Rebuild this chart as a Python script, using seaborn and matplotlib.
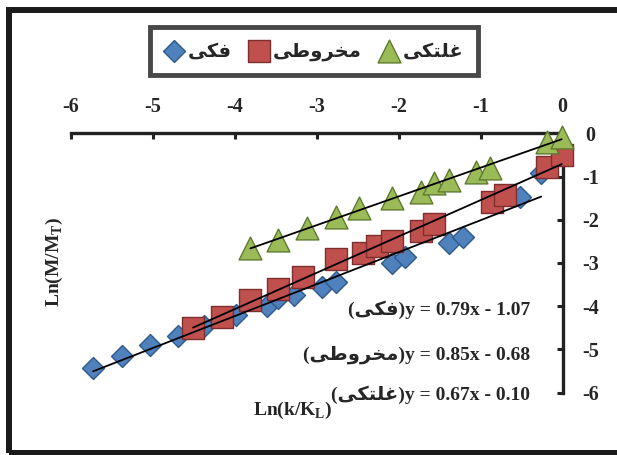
import numpy as np
import pandas as pd
import matplotlib
matplotlib.use("Agg")
import matplotlib.pyplot as plt
from matplotlib.patches import Rectangle
import seaborn as sns

sns.set_style("white")
plt.rcParams['font.family'] = ['Liberation Serif', 'DejaVu Sans']
plt.rcParams['font.weight'] = 'bold'
plt.rcParams['mathtext.fontset'] = 'custom'
plt.rcParams['mathtext.rm'] = 'Liberation Serif:bold'
plt.rcParams['mathtext.bf'] = 'Liberation Serif:bold'

# series names (Persian, shaped presentation forms in visual order)
name_jaw = "\uFBFD\uFB91\uFED3"                       # فکی
name_cone = "\uFBFD\uFEC3\uFEED\uFEAE\uFEA8\uFEE3"    # مخروطی
name_roll = "\uFBFD\uFB91\uFE98\uFEE0\uFECF"          # غلتکی

jaw_x = [-5.73, -5.38, -5.03, -4.69, -4.38, -3.99, -3.61, -3.47, -3.28, -2.94,
         -2.77, -2.08, -1.92, -1.39, -1.21, -0.52, -0.26]
jaw_y = [-5.43, -5.16, -4.89, -4.70, -4.45, -4.20, -3.99, -3.80, -3.73, -3.56,
         -3.43, -2.99, -2.85, -2.54, -2.40, -1.48, -0.92]

cone_x = [-4.51, -4.16, -3.81, -3.47, -3.17, -2.77, -2.43, -2.27, -2.08, -1.73,
          -1.57, -0.86, -0.70, -0.19, -0.01]
cone_y = [-4.50, -4.24, -3.85, -3.60, -3.32, -2.91, -2.76, -2.60, -2.50, -2.25,
          -2.10, -1.60, -1.42, -0.77, -0.50]

roll_x = [-3.81, -3.47, -3.12, -2.77, -2.49, -2.08, -1.73, -1.57, -1.39, -1.05,
          -0.88, -0.19, -0.01]
roll_y = [-2.66, -2.46, -2.19, -1.93, -1.73, -1.50, -1.35, -1.15, -1.08, -0.89,
          -0.81, -0.19, -0.08]

eq_labels = ["y = 0.79x - 1.07", "y = 0.85x - 0.68", "y = 0.67x - 0.10"]
ticks = [-6, -5, -4, -3, -2, -1, 0]

series = [
    (name_jaw, jaw_x, jaw_y, 'D', 125, '#4F81BD', '#2F5A8A'),
    (name_cone, cone_x, cone_y, 's', 250, '#C0504D', '#7E2E2C'),
    (name_roll, roll_x, roll_y, '^', 270, '#9BBB59', '#5E7A2E'),
]

fig = plt.figure(figsize=(6.17, 4.55), dpi=100)
ax = fig.add_axes([71 / 617, 1 - 392.7 / 455, 491.5 / 617, 259.4 / 455])

for name, xs, ys, mk, s, fc, ec in series:
    df = pd.DataFrame({'x': xs, 'y': ys})
    sns.regplot(data=df, x='x', y='y', ax=ax, scatter=False, ci=None,
                color='black', line_kws={'lw': 1.3, 'zorder': 4})
    sns.scatterplot(data=df, x='x', y='y', ax=ax, marker=mk, s=s, color=fc,
                    edgecolor=ec, linewidth=1.0, label=name, zorder=3,
                    clip_on=False)

ax.set_xlim(-6, 0)
ax.set_ylim(-6, 0)
ax.set_xticks(ticks)
ax.set_yticks(ticks)
ax.set_xticklabels([str(t) for t in ticks])
ax.set_yticklabels([str(t) for t in ticks])
ax.xaxis.tick_top()
ax.yaxis.tick_right()
ax.tick_params(axis='x', direction='in', length=4, width=2.2, pad=12,
               labelsize=14.5, color='#222222')
ax.tick_params(axis='y', direction='in', length=4, width=2.2, pad=20,
               labelsize=14.5, color='#222222')
for lbl in ax.get_yticklabels():
    lbl.set_ha('center')
for side in ['left', 'bottom']:
    ax.spines[side].set_visible(False)
for side in ['top', 'right']:
    ax.spines[side].set_visible(True)
    ax.spines[side].set_linewidth(2.4)
    ax.spines[side].set_color('#222222')
ax.set_xlabel('')
ax.set_ylabel('')
ax.grid(False)
ax.patch.set_alpha(0)

fig.text(54 / 617, 1 - 262 / 455, r'Ln(M/M$_{\mathrm{T}}$)', rotation=90,
         ha='center', va='center', fontsize=14, fontweight='bold')
fig.text(293 / 617, 1 - 410 / 455, r'Ln(k/K$_{\mathrm{L}}$)',
         ha='center', va='center', fontsize=14, fontweight='bold')

eq_names = [name_jaw, name_cone, name_roll]
eq_ypix = [310, 355, 395]
for nm, eq, yp in zip(eq_names, eq_labels, eq_ypix):
    fig.text(530 / 617, 1 - yp / 455, '(' + nm + ')' + eq, ha='right',
             va='center', fontsize=14, fontweight='bold',
             family=['Liberation Serif', 'DejaVu Sans'])

handles, labels = ax.get_legend_handles_labels()
ax.get_legend().remove()
leg = fig.legend(handles, labels, loc='center',
                 bbox_to_anchor=(314 / 617, 1 - 51 / 455), ncol=3,
                 frameon=True, fancybox=False, edgecolor='#1a1a1a',
                 prop={'family': ['DejaVu Sans'], 'weight': 'bold', 'size': 14},
                 handletextpad=0.2, columnspacing=0.9, borderpad=0.75,
                 handlelength=1.0)
leg.get_frame().set_linewidth(3.5)

fig.patches.append(Rectangle((9 / 617, 2 / 455), 1.2, 1 - 12 / 455,
                             transform=fig.transFigure, fill=False,
                             edgecolor='#1a1a1a', lw=4.3, zorder=0))

fig.savefig('out.png', dpi=100)
